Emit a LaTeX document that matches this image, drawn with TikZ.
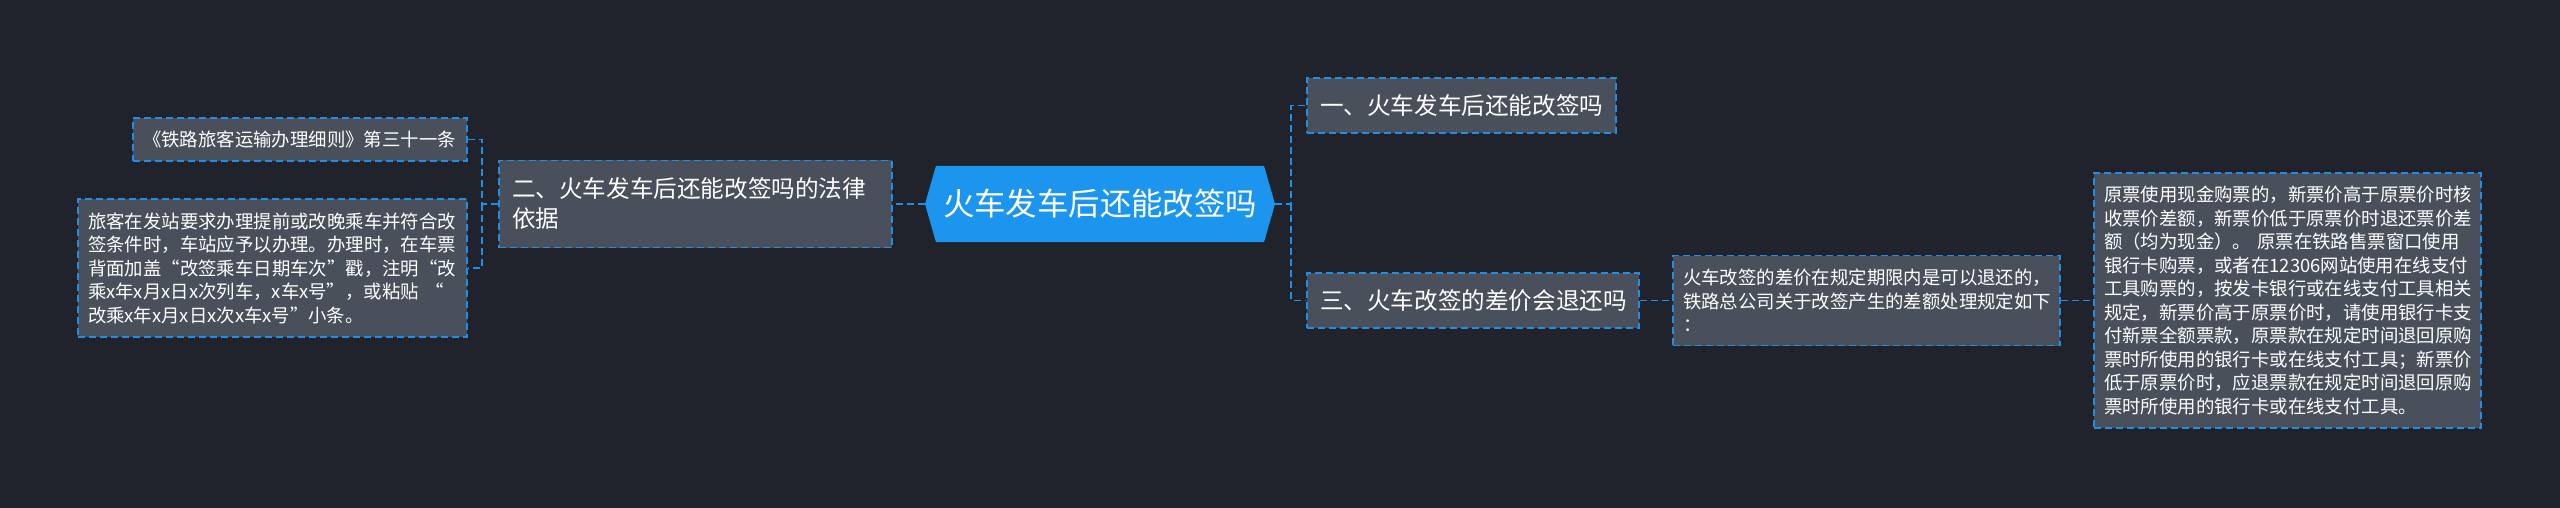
\documentclass[tikz,border=0pt]{standalone}
\usepackage{fontspec}
\newfontfamily\cjk{Noto Sans CJK SC}
\usetikzlibrary{shapes.symbols}

\definecolor{bgdark}{HTML}{20232C}
\definecolor{boxgray}{HTML}{4A4F5C}
\definecolor{lineblue}{HTML}{1E8FE6}
\definecolor{rootblue}{HTML}{1C95EE}

\tikzset{
  link/.style={draw=lineblue, line width=1.6pt, dash pattern=on 7pt off 4pt},
  topic/.style={draw=lineblue, fill=boxgray, line width=1.6pt, dash pattern=on 7pt off 4pt,
    text=white, align=left, inner xsep=13pt, inner ysep=0pt,
    font=\cjk\fontsize{23.6}{30}\selectfont},
  note/.style={draw=lineblue, fill=boxgray, line width=1.6pt, dash pattern=on 7pt off 4pt,
    text=white, align=left, inner xsep=10pt, inner ysep=0pt,
    font=\cjk\fontsize{18.4}{23.5}\selectfont},
  hub/.style={signal, signal to=east and west, signal pointer angle=148, fill=rootblue,
    text=white, inner sep=0pt, font=\cjk\fontsize{31.4}{36}\selectfont}
}

\begin{document}
\begin{tikzpicture}[x=1pt,y=-1pt]

% Fondo
\useasboundingbox (0,0) rectangle (2560,508);
\fill[bgdark] (0,0) rectangle (2560,508);

% Tema central
\node[hub, minimum width=350pt, minimum height=76pt] (root) at (1100,204) {火车发车后还能改签吗};

% Ramas de primer nivel
\node[topic, text width=367pt, minimum height=87pt] (b2) at (695.5,204)
  {二、火车发车后还能改签吗的法律\\依据};
\node[topic, text width=283pt, minimum height=55pt] (b1) at (1461.5,105.5)
  {一、火车发车后还能改签吗};
\node[topic, text width=306pt, minimum height=55pt] (b3) at (1473,300.5)
  {三、火车改签的差价会退还吗};

% Notas de la izquierda
\node[note, text width=314pt, minimum height=43pt] (l1) at (300,139.5)
  {《铁路旅客运输办理细则》第三十一条};
\node[note, text width=369pt, minimum height=138pt] (l2) at (272.5,268)
  {旅客在发站要求办理提前或改晚乘车并符合改\\
   签条件时，车站应予以办理。办理时，在车票\\
   背面加盖“改签乘车日期车次”戳，注明“改\\
   乘x年x月x日x次列车，x车x号”，或粘贴 “\\
   改乘x年x月x日x次x车x号”小条。};

% Notas de la derecha
\node[note, text width=367pt, minimum height=90pt] (l3) at (1866.5,300.5)
  {火车改签的差价在规定期限内是可以退还的，\\
   铁路总公司关于改签产生的差额处理规定如下\\
   ：};
\node[note, text width=367pt, minimum height=255pt] (l4) at (2287.5,300.5)
  {原票使用现金购票的，新票价高于原票价时核\\
   收票价差额，新票价低于原票价时退还票价差\\
   额（均为现金）。 原票在铁路售票窗口使用\\
   银行卡购票，或者在12306网站使用在线支付\\
   工具购票的，按发卡银行或在线支付工具相关\\
   规定，新票价高于原票价时，请使用银行卡支\\
   付新票全额票款，原票款在规定时间退回原购\\
   票时所使用的银行卡或在线支付工具；新票价\\
   低于原票价时，应退票款在规定时间退回原购\\
   票时所使用的银行卡或在线支付工具。};

% Conexiones izquierda
\draw[link] (root.west) -- (b2.east);
\draw[link] (b2.west) -- ++(-16,0) coordinate (lj) |- (l1.east);
\draw[link] (lj) |- (l2.east);

% Conexiones derecha
\draw[link] (root.east) -- ++(16,0) coordinate (rj) |- (b1.west);
\draw[link] (rj) |- (b3.west);
\draw[link] (b3.east) -- (l3.west);
\draw[link] (l3.east) -- (l4.west);
\end{tikzpicture}
\end{document}
